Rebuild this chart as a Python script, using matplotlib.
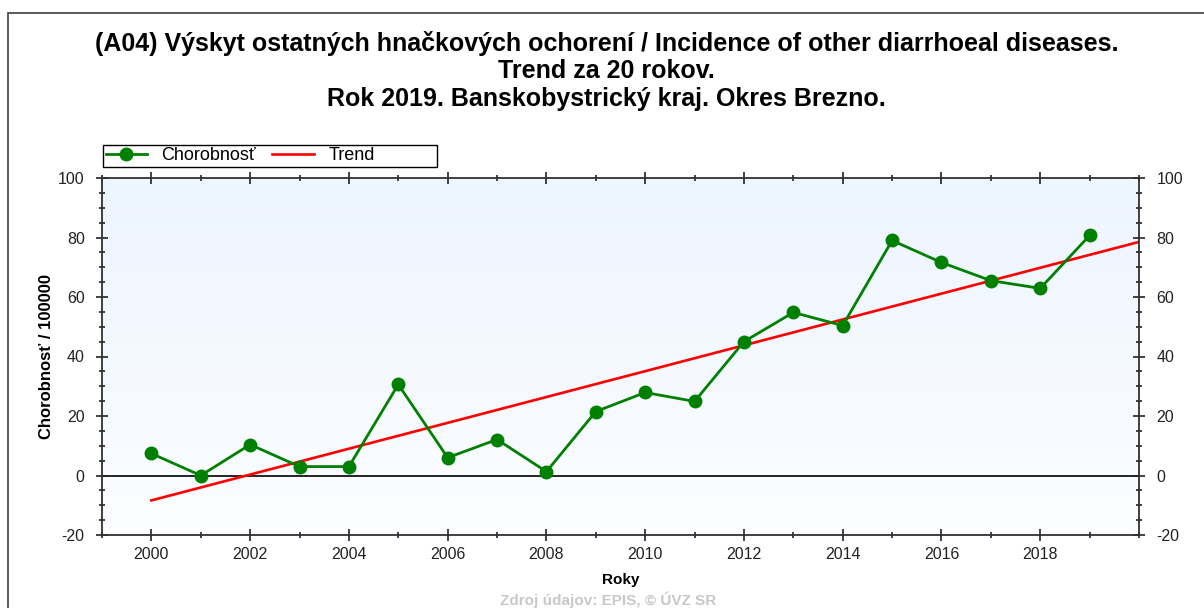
import numpy as np
import matplotlib
matplotlib.use('Agg')
import matplotlib.pyplot as plt
from matplotlib.patches import Rectangle
from matplotlib.ticker import MultipleLocator, FixedLocator

plt.rcParams['font.family'] = ['Liberation Sans', 'DejaVu Sans']
plt.rcParams['axes.unicode_minus'] = False

# Data
roky = np.arange(2000, 2020)
chorobnost = np.array([7.4, 0.0, 10.4, 3.0, 3.0, 30.6, 6.0, 12.1, 1.3, 21.5,
                       27.9, 24.9, 45.0, 54.8, 50.4, 79.0, 71.6, 65.5, 62.9, 80.7])
x_ticks = np.arange(2000, 2019, 2)

# Linear trend (least squares), drawn from 2000 to 2020
coef = np.polyfit(roky, chorobnost, 1)
trend_x = np.array([2000, 2020])
trend_y = np.polyval(coef, trend_x)

fig = plt.figure(figsize=(12.04, 6.08), dpi=100)
fig.patch.set_facecolor('white')

# outer frame
fig.patches.append(Rectangle((8 / 1204, -0.1), 1.2, 1.1 - 13 / 608,
                             transform=fig.transFigure, fill=False,
                             edgecolor='#404040', linewidth=1.2))

ax = fig.add_axes([102 / 1204, 1 - 535 / 608, 1037 / 1204, 357 / 608])
ax.set_xlim(1999, 2020)
ax.set_ylim(-20, 100)

# background gradient
grad = np.linspace(0, 1, 256).reshape(-1, 1)
top = np.array([237, 245, 255]) / 255
bot = np.array([252, 253, 255]) / 255
img = bot + (top - bot) * grad
ax.imshow(img[:, None, :].repeat(2, axis=1), extent=[0, 1, 0, 1], origin='lower',
          transform=ax.transAxes, aspect='auto', zorder=0)

ax.axhline(0, color='black', linewidth=1.2, zorder=1)
ax.plot(trend_x, trend_y, color='#ff0000', linewidth=1.9, label='Trend', zorder=2)
ax.plot(roky, chorobnost, color='#008000', linewidth=2, marker='o', markersize=9,
        label='Chorobnosť', zorder=3)

h, l = ax.get_legend_handles_labels()
leg = ax.legend(h[::-1], l[::-1], loc='center left', bbox_to_anchor=(0.0, 1.062),
                ncol=2, frameon=False, fontsize=13, handlelength=2.3,
                handletextpad=0.8, columnspacing=0.9, borderpad=0.2, borderaxespad=0)
ax.add_patch(Rectangle((1 / 1037, 1 + 11 / 357), 334 / 1037, 22 / 357,
                       transform=ax.transAxes, fill=False, edgecolor='black',
                       linewidth=1.0, clip_on=False))

ax.xaxis.set_major_locator(FixedLocator(x_ticks))
ax.xaxis.set_minor_locator(MultipleLocator(1))
ax.yaxis.set_major_locator(MultipleLocator(20))
ax.yaxis.set_minor_locator(MultipleLocator(5))
ax.tick_params(which='both', direction='inout', top=True, right=True,
               labelright=True, labelsize=11.5, colors='#222222', width=1.2)
ax.tick_params(which='major', length=9, pad=4)
ax.tick_params(which='minor', length=5)
ax.tick_params(axis='y', pad=8)
for s in ax.spines.values():
    s.set_linewidth(1.3)
    s.set_color('#303030')

ax.set_xlabel('Roky', fontsize=11, fontweight='bold', labelpad=8)
ax.set_ylabel('Chorobnosť / 100000', fontsize=12, fontweight='bold', labelpad=3)

fig.text(0.504, 1 - 44 / 608, '(A04) Výskyt ostatných hnačkových ochorení / Incidence of other diarrhoeal diseases.',
         ha='center', va='center', fontsize=18, fontweight='bold')
fig.text(0.504, 1 - 71 / 608, 'Trend za 20 rokov.', ha='center', va='center',
         fontsize=18, fontweight='bold')
fig.text(0.504, 1 - 99 / 608, 'Rok 2019. Banskobystrický kraj. Okres Brezno.',
         ha='center', va='center', fontsize=18, fontweight='bold')
fig.text(0.505, 1 - 600 / 608, 'Zdroj údajov: EPIS, © ÚVZ SR', ha='center', va='center',
         fontsize=11, color='#c8c8c8', fontweight='bold')

fig.savefig('out.png', dpi=100)
